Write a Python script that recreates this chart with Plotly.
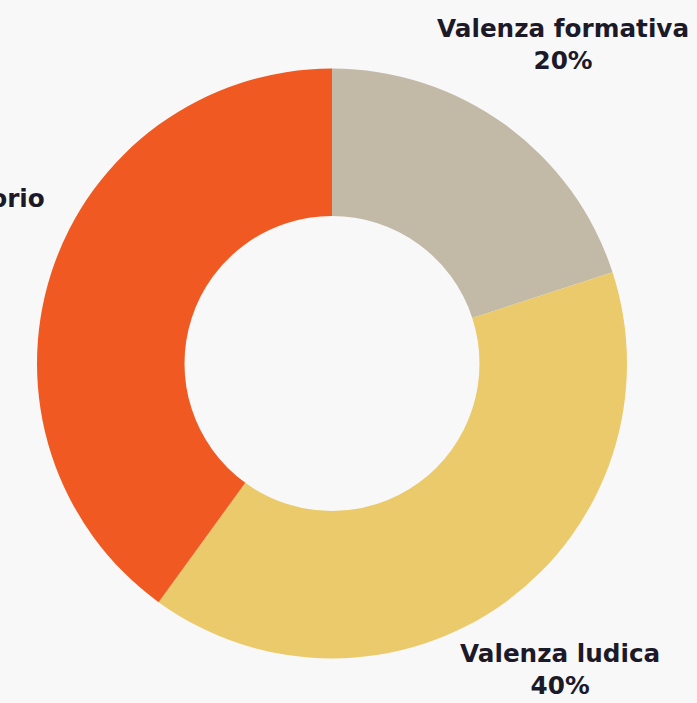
import plotly.graph_objects as go

labels = ["Valenza formativa", "Valenza ludica", "Valenza laboratorio"]
values = [20, 40, 40]
colors = ["#C2B9A7", "#EBCA6B", "#F05A22"]

W, H = 697, 703
fig = go.Figure(go.Pie(
    labels=labels, values=values, sort=False, direction="clockwise", rotation=0,
    hole=0.5, marker=dict(colors=colors, line=dict(width=0)),
    textinfo="none", hoverinfo="label+percent", showlegend=False,
    domain=dict(x=[37/W, 627/W], y=[(H-659)/H, (H-68)/H]),
))

font = dict(family="DejaVu Sans, Verdana, sans-serif", size=24.7, color="#1C1A28")
def ann(text, xpx, ypx, xanchor="center"):
    return dict(text=text, x=xpx/W, y=1-ypx/H, xref="paper", yref="paper",
                showarrow=False, xanchor=xanchor, yanchor="middle", align="center",
                font=font)

pct = [f"{v}%" for v in values]
fig.update_layout(
    width=W, height=H, margin=dict(l=0, r=0, t=0, b=0),
    paper_bgcolor="#F8F8F8", plot_bgcolor="#F8F8F8",
    annotations=[
        ann(f"<b>{labels[0]}<br>{pct[0]}</b>", 563, 45),
        ann(f"<b>{labels[1]}<br>{pct[1]}</b>", 560, 669),
        ann(f"<b>{labels[2]}<br>{pct[2]}</b>", -91, 214),
    ],
)
fig.write_html("out.html", config={"displayModeBar": False},
               post_script="document.body.style.margin='0';document.body.style.background='#F8F8F8';")
